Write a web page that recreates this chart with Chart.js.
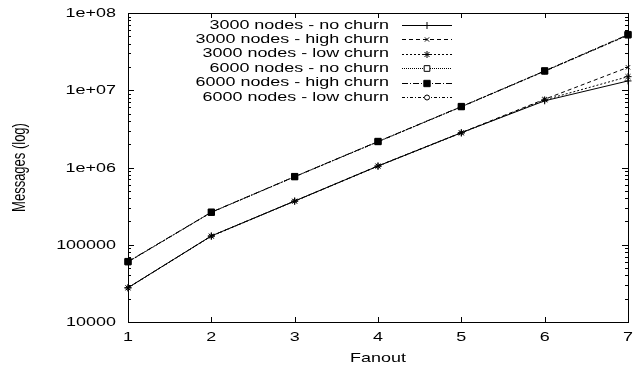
<!DOCTYPE html>
<html>
<head>
<meta charset="utf-8">
<script src="https://cdn.jsdelivr.net/npm/chart.js@4.4.1/dist/chart.umd.min.js"></script>
<style>
  html, body { margin: 0; padding: 0; background: #fff; }
  #wrap { width: 640px; height: 371px; }
</style>
</head>
<body>
<div id="wrap"><canvas id="myChart"></canvas></div>
<script>
// values (log scale, so estimated)
const fanout = [1, 2, 3, 4, 5, 6, 7]
const nodes3000NoChurn = [27800, 130000, 368000, 1045000, 2820000, 7300000, 13200000]
const nodes3000HighChurn = [27800, 130000, 368000, 1050000, 2830000, 7650000, 19800000]
const nodes3000LowChurn = [27600, 129000, 366000, 1040000, 2800000, 7500000, 15000000]
const nodes6000NoChurn = [60000, 263000, 760000, 2160000, 6120000, 17700000, 51900000]
const nodes6000HighChurn = [60500, 264000, 762000, 2170000, 6150000, 17800000, 52500000]
const nodes6000LowChurn = [59800, 262000, 758000, 2150000, 6100000, 17600000, 51500000]
const yTickValues = [10000, 100000, 1000000, 10000000, 100000000]
const yTickLabels = ['10000', '100000', '1e+06', '1e+07', '1e+08']
const xTitle = 'Fanout'
const yTitle = 'Messages (log)';

(() => {
    'use strict'

    const SX = 1.38   // the original text is wide, stretch it sideways
    const FONT = '13px "Liberation Sans", Arial, sans-serif'

    function wideText(ctx, text, x, y, align, vertical) {
        ctx.save()
        ctx.translate(x, y)
        if (vertical) {
            ctx.rotate(-Math.PI / 2)
            ctx.scale(1, SX)
        } else {
            ctx.scale(SX, 1)
        }
        ctx.textAlign = align
        ctx.textBaseline = 'middle'
        ctx.fillText(text, 0, 0)
        ctx.restore()
    }

    function series(label, data, dash, style, radius, fill, order) {
        return {
            label: label,
            data: fanout.map((f, i) => ({ x: f, y: data[i] })),
            borderColor: '#000',
            borderWidth: 1,
            borderDash: dash,
            pointStyle: style,
            pointRadius: radius,
            pointBorderColor: '#000',
            pointBorderWidth: 1,
            pointBackgroundColor: fill,
            tension: 0,
            clip: 10,
            order: order
        }
    }

    const gnuplotFrame = {
        id: 'gnuplotFrame',
        beforeDatasetsDraw(chart) {
            const { ctx, chartArea: a } = chart
            const x = chart.scales.x
            const y = chart.scales.y
            ctx.save()
            ctx.strokeStyle = '#000'
            ctx.lineWidth = 1
            ctx.strokeRect(a.left + 0.5, a.top + 0.5, a.right - a.left, a.bottom - a.top)
            ctx.beginPath()
            // y ticks, major and minor, both sides
            for (let d = 4; d <= 8; d++) {
                const py = Math.round(y.getPixelForValue(Math.pow(10, d))) + 0.5
                ctx.moveTo(a.left, py); ctx.lineTo(a.left + 6, py)
                ctx.moveTo(a.right, py); ctx.lineTo(a.right - 6, py)
                if (d === 8) continue
                for (let m = 2; m <= 9; m++) {
                    const my = Math.round(y.getPixelForValue(m * Math.pow(10, d))) + 0.5
                    ctx.moveTo(a.left, my); ctx.lineTo(a.left + 3, my)
                    ctx.moveTo(a.right, my); ctx.lineTo(a.right - 3, my)
                }
            }
            // x ticks top and bottom
            fanout.forEach(f => {
                const px = Math.round(x.getPixelForValue(f)) + 0.5
                ctx.moveTo(px, a.bottom); ctx.lineTo(px, a.bottom - 5)
                ctx.moveTo(px, a.top); ctx.lineTo(px, a.top + 5)
            })
            ctx.stroke()

            ctx.fillStyle = '#000'
            ctx.font = FONT
            yTickValues.forEach((v, i) => {
                wideText(ctx, yTickLabels[i], a.left - 12, y.getPixelForValue(v) + 0.5, 'right')
            })
            fanout.forEach(f => {
                wideText(ctx, String(f), x.getPixelForValue(f), a.bottom + 15, 'center')
            })
            wideText(ctx, xTitle, (a.left + a.right) / 2, a.bottom + 36, 'center')
            wideText(ctx, yTitle, 20, (a.top + a.bottom) / 2, 'center', true)
            ctx.restore()
        },
        afterDraw(chart) {
            // legend: text right aligned, then line sample with marker
            const ctx = chart.ctx
            ctx.save()
            ctx.font = FONT
            ctx.fillStyle = '#000'
            chart.data.datasets.forEach((ds, i) => {
                const ly = 25 + i * 14.4
                wideText(ctx, ds.label, 389, ly, 'right')
                const sy = Math.round(ly) + 0.5
                ctx.strokeStyle = '#000'
                ctx.lineWidth = 1
                ctx.setLineDash(ds.borderDash)
                ctx.beginPath()
                ctx.moveTo(402, sy)
                ctx.lineTo(452, sy)
                ctx.stroke()
                ctx.setLineDash([])
                ctx.fillStyle = ds.pointBackgroundColor
                Chart.helpers.drawPoint(ctx, {
                    pointStyle: ds.pointStyle,
                    radius: ds.pointRadius,
                    rotation: 0,
                    borderWidth: 1
                }, 427, sy)
                ctx.fillStyle = '#000'
            })
            ctx.restore()
        }
    }

    const ctx = document.getElementById('myChart')
    // eslint-disable-next-line no-unused-vars
    const myChart = new Chart(ctx, {
        type: 'line',
        data: {
            datasets: [
                series('3000 nodes - no churn', nodes3000NoChurn, [], 'cross', 3.5, '#000', 0),
                series('3000 nodes - high churn', nodes3000HighChurn, [4, 3], 'crossRot', 3, '#000', 0),
                series('3000 nodes - low churn', nodes3000LowChurn, [2, 2], 'star', 3.5, '#000', -1),
                series('6000 nodes - no churn', nodes6000NoChurn, [1, 1], 'rect', 4, '#fff', 0),
                series('6000 nodes - high churn', nodes6000HighChurn, [6, 2, 1, 2], 'rect', 4.5, '#000', -2),
                series('6000 nodes - low churn', nodes6000LowChurn, [3, 2, 1, 2], 'circle', 2.5, '#fff', 0)
            ]
        },
        options: {
            responsive: true,
            maintainAspectRatio: false,
            animation: false,
            layout: { padding: { top: 13, right: 12, left: 0, bottom: 0 } },
            scales: {
                x: {
                    type: 'linear',
                    min: 1,
                    max: 7,
                    grid: { display: false },
                    border: { display: false },
                    ticks: { display: false },
                    afterFit(scale) { scale.height = 49 }
                },
                y: {
                    type: 'logarithmic',
                    min: 10000,
                    max: 100000000,
                    grid: { display: false },
                    border: { display: false },
                    ticks: { display: false },
                    afterFit(scale) { scale.width = 128 }
                }
            },
            plugins: {
                legend: { display: false },
                tooltip: { enabled: false }
            }
        },
        plugins: [gnuplotFrame]
    })
})()
</script>
</body>
</html>
